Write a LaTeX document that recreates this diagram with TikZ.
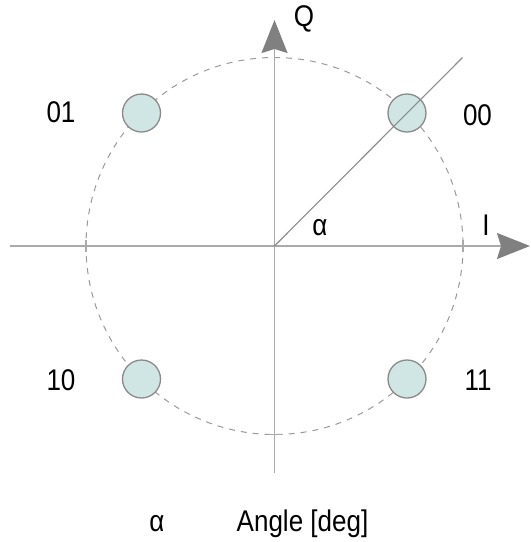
\documentclass[tikz,border=0pt]{standalone}
\usepackage{fontspec}
\setmainfont{Liberation Sans}
\usetikzlibrary{arrows.meta}
\definecolor{axisgray}{HTML}{AAAAAA}
\definecolor{arrowgray}{HTML}{808080}
\definecolor{dashgray}{HTML}{999999}
\definecolor{linegray}{HTML}{8C8C8C}
\definecolor{ptfill}{HTML}{CFE6E4}
\definecolor{ptdraw}{HTML}{8A8A8A}
\newcommand{\tx}[1]{\scalebox{1}[1.15]{#1}}
\tikzset{
  axisline/.style={draw=axisgray, line width=1.8pt,
    -{Stealth[length=33pt,width=26pt,inset=4pt,color=arrowgray,fill=arrowgray]}},
  ticks/.style={draw=axisgray, line width=1.5pt},
  dashcircle/.style={draw=dashgray, line width=1pt, dash pattern=on 6pt off 6pt},
  diag/.style={draw=linegray, line width=1.1pt},
  ptnode/.style={circle, draw=ptdraw, fill=ptfill, line width=1.3pt, minimum size=38pt, inner sep=0pt},
  lbl/.style={font=\fontsize{26}{30}\selectfont, text=black, inner sep=0pt}
}
\begin{document}
\begin{tikzpicture}[x=1pt,y=-1pt]
\useasboundingbox (0,0) rectangle (531,542);
\coordinate (c) at (274.5,246);
\coordinate (xl) at (10,246);
\coordinate (xr) at (530,246);
\coordinate (yb) at (274.5,473);
\coordinate (yt) at (274.5,20);
\coordinate (e) at (462.5,57.5);
% dashed circle
\draw[dashcircle] (c) circle[radius=188.5];
% axes
\draw[axisline] (xl) -- (xr);
\draw[axisline] (yb) -- (yt);
% ticks
\draw[ticks] (86,240) -- (86,252);
\draw[ticks] (463,240) -- (463,252);
\draw[ticks] (268.5,434.5) -- (280.5,434.5);
% points
\node[ptnode] (p01) at (141.5,113) {};
\node[ptnode] (p00) at (407,113) {};
\node[ptnode] (p10) at (141.5,379) {};
\node[ptnode] (p11) at (407,379) {};
% diagonal
\draw[diag] (c) -- (e);
% labels
\node[lbl] (lq) at (304,19) {\tx{Q}};
\node[lbl] (l01) at (61,112) {\tx{01}};
\node[lbl] (l00) at (477.5,115) {\tx{00}};
\node[lbl] (li) at (486,225) {\tx{I}};
\node[lbl] (la) at (320,228) {\tx{α}};
\node[lbl] (l10) at (61,380) {\tx{10}};
\node[lbl] (l11) at (478,380) {\tx{11}};
\node[lbl] (ba) at (157,524) {\tx{α}};
\node[lbl] (bt) at (302.5,524) {\tx{Angle [deg]}};
\end{tikzpicture}
\end{document}
